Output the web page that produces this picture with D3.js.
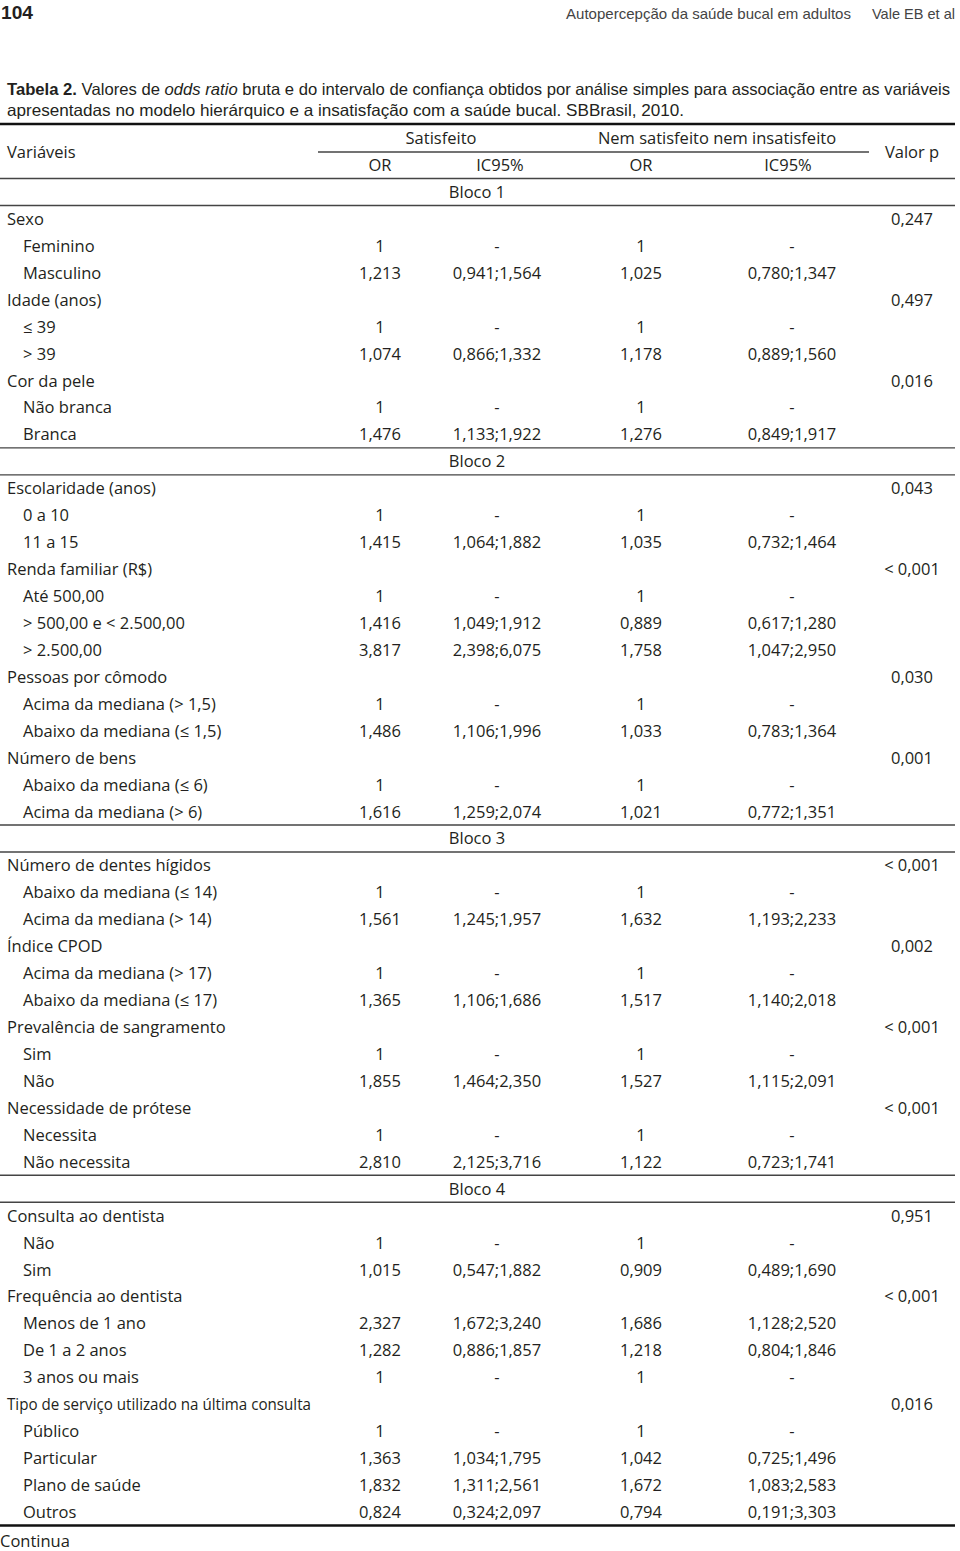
<!DOCTYPE html>
<html><head><meta charset="utf-8">
<script src="https://cdn.jsdelivr.net/npm/d3@7"></script>
<style>
html,body{margin:0;padding:0;background:#fff;}
svg{display:block;}
</style></head>
<body>
<svg id="c" width="960" height="1551"></svg>
<script>
const rowLabels = ["Bloco 1","Sexo","Feminino","Masculino","Idade (anos)","≤ 39","> 39","Cor da pele","Não branca","Branca",
"Bloco 2","Escolaridade (anos)","0 a 10","11 a 15","Renda familiar (R$)","Até 500,00","> 500,00 e < 2.500,00","> 2.500,00",
"Pessoas por cômodo","Acima da mediana (> 1,5)","Abaixo da mediana (≤ 1,5)","Número de bens","Abaixo da mediana (≤ 6)","Acima da mediana (> 6)",
"Bloco 3","Número de dentes hígidos","Abaixo da mediana (≤ 14)","Acima da mediana (> 14)","Índice CPOD","Acima da mediana (> 17)","Abaixo da mediana (≤ 17)",
"Prevalência de sangramento","Sim","Não","Necessidade de prótese","Necessita","Não necessita",
"Bloco 4","Consulta ao dentista","Não","Sim","Frequência ao dentista","Menos de 1 ano","De 1 a 2 anos","3 anos ou mais",
"Tipo de serviço utilizado na última consulta","Público","Particular","Plano de saúde","Outros"];
const rowKinds = ["b","c","s","s","c","s","s","c","s","s",
"b","c","s","s","c","s","s","s",
"c","s","s","c","s","s",
"b","c","s","s","c","s","s",
"c","s","s","c","s","s",
"b","c","s","s","c","s","s","s",
"c","s","s","s","s"];
const orSatisfeito = ["","","1","1,213","","1","1,074","","1","1,476",
"","","1","1,415","","1","1,416","3,817",
"","1","1,486","","1","1,616",
"","","1","1,561","","1","1,365",
"","1","1,855","","1","2,810",
"","","1","1,015","","2,327","1,282","1",
"","1","1,363","1,832","0,824"];
const icSatisfeito = ["","","-","0,941;1,564","","-","0,866;1,332","","-","1,133;1,922",
"","","-","1,064;1,882","","-","1,049;1,912","2,398;6,075",
"","-","1,106;1,996","","-","1,259;2,074",
"","","-","1,245;1,957","","-","1,106;1,686",
"","-","1,464;2,350","","-","2,125;3,716",
"","","-","0,547;1,882","","1,672;3,240","0,886;1,857","-",
"","-","1,034;1,795","1,311;2,561","0,324;2,097"];
const orNem = ["","","1","1,025","","1","1,178","","1","1,276",
"","","1","1,035","","1","0,889","1,758",
"","1","1,033","","1","1,021",
"","","1","1,632","","1","1,517",
"","1","1,527","","1","1,122",
"","","1","0,909","","1,686","1,218","1",
"","1","1,042","1,672","0,794"];
const icNem = ["","","-","0,780;1,347","","-","0,889;1,560","","-","0,849;1,917",
"","","-","0,732;1,464","","-","0,617;1,280","1,047;2,950",
"","-","0,783;1,364","","-","0,772;1,351",
"","","-","1,193;2,233","","-","1,140;2,018",
"","-","1,115;2,091","","-","0,723;1,741",
"","","-","0,489;1,690","","1,128;2,520","0,804;1,846","-",
"","-","0,725;1,496","1,083;2,583","0,191;3,303"];
const valorP = ["","0,247","","","0,497","","","0,016","","",
"","0,043","","","< 0,001","","","",
"0,030","","","0,001","","",
"","< 0,001","","","0,002","","",
"< 0,001","","","< 0,001","","",
"","0,951","","","< 0,001","","","",
"0,016","","","",""];
const columnKeys = ["orSat","icSat","orNem","icNem","p"];
const headerGroups = ["Satisfeito","Nem satisfeito nem insatisfeito"];
const subHeaders = ["OR","IC95%","OR","IC95%"];

const svg = d3.select("#c");
const FONT = "'Open Sans', 'Noto Sans', sans-serif";
const NARROW = "'Liberation Sans Narrow', 'Liberation Sans', Arial, sans-serif";
const ink = "#231f20";

// page header
svg.append("text").attr("x",1).attr("y",19).attr("font-family",NARROW).attr("font-weight","bold")
  .attr("font-size",19).attr("fill",ink).attr("textLength",32).attr("lengthAdjust","spacingAndGlyphs").text("104");
svg.append("text").attr("x",566).attr("y",19).attr("font-family",NARROW).attr("font-size",15)
  .attr("fill","#444").attr("textLength",285).attr("lengthAdjust","spacingAndGlyphs").text("Autopercepção da saúde bucal em adultos");
svg.append("text").attr("x",872).attr("y",19).attr("font-family",NARROW).attr("font-size",15)
  .attr("fill","#444").attr("textLength",83).attr("lengthAdjust","spacingAndGlyphs").text("Vale EB et al");

// caption
const cap1 = svg.append("text").attr("x",7).attr("y",95).attr("font-family",NARROW).attr("font-size",16.5)
  .attr("fill",ink).attr("textLength",943).attr("lengthAdjust","spacingAndGlyphs");
cap1.append("tspan").attr("font-weight","bold").text("Tabela 2.");
cap1.append("tspan").text(" Valores de ");
cap1.append("tspan").attr("font-style","italic").text("odds ratio");
cap1.append("tspan").text(" bruta e do intervalo de confiança obtidos por análise simples para associação entre as variáveis");
svg.append("text").attr("x",7).attr("y",116).attr("font-family",NARROW).attr("font-size",16.5)
  .attr("fill",ink).attr("textLength",677).attr("lengthAdjust","spacingAndGlyphs")
  .text("apresentadas no modelo hierárquico e a insatisfação com a saúde bucal. SBBrasil, 2010.");

// scales
const y = d3.scaleLinear().domain([0, rowLabels.length-1]).range([192, 1512]);
const x = d3.scaleOrdinal().domain(columnKeys).range([380, 497, 641, 792, 912]);
const rowH = (y(1)-y(0));

const g = svg.append("g").attr("font-family",FONT).attr("font-size",16.5).attr("fill",ink);

// rules
function rule(y0, x0, x1, w, col){
  svg.append("line").attr("x1",x0).attr("x2",x1).attr("y1",y0).attr("y2",y0)
    .attr("stroke",col||"#333").attr("stroke-width",w);
}
rule(124, 0, 955, 2.6, "#111");
rule(152, 318, 869, 1.4, "#444");
rule(y(0)-rowH/2, 0, 955, 1.4, "#444");
rule(y(rowLabels.length-1)+rowH/2, 0, 955, 2.6, "#111");
rowKinds.forEach((k,i)=>{
  if(k==="b" && i>0){ rule(y(i)-rowH/2, 0, 955, 1.4, "#444"); }
  if(k==="b"){ rule(y(i)+rowH/2, 0, 955, 1.4, "#444"); }
});

// header
const DY = "0.36em";
g.append("text").attr("x",7).attr("y",152).attr("dy",DY).text("Variáveis");
g.append("text").attr("x",441).attr("y",138).attr("dy",DY).attr("text-anchor","middle").text(headerGroups[0]);
g.append("text").attr("x",717).attr("y",138).attr("dy",DY).attr("text-anchor","middle").text(headerGroups[1]);
g.append("text").attr("x",912).attr("y",152).attr("dy",DY).attr("text-anchor","middle").text("Valor p");
const subX = [380, 500, 641, 788];
subHeaders.forEach((h,i)=>{
  g.append("text").attr("x",subX[i]).attr("y",165).attr("dy",DY).attr("text-anchor","middle").text(h);
});

// body
const rows = rowLabels.map((lab,i)=>({i, lab, kind: rowKinds[i],
  orSat: orSatisfeito[i], icSat: icSatisfeito[i], orNem: orNem[i], icNem: icNem[i], p: valorP[i]}));

const rg = g.selectAll("g.row").data(rows).join("g").attr("class","row")
  .attr("transform", d=>`translate(0,${y(d.i)})`);

rg.append("text")
  .attr("x", d=> d.kind==="b" ? 477 : (d.kind==="c" ? 7 : 23))
  .attr("text-anchor", d=> d.kind==="b" ? "middle" : "start")
  .attr("dy", DY)
  .each(function(d){
    if(d.lab.startsWith("Tipo de serviço")){
      d3.select(this).attr("textLength",304).attr("lengthAdjust","spacingAndGlyphs");
    }
  })
  .text(d=>d.lab);

columnKeys.forEach(key=>{
  rg.filter(d=>d[key]).append("text")
    .attr("x", x(key)).attr("dy", DY).attr("text-anchor","middle")
    .text(d=>d[key]);
});

svg.append("text").attr("x",0).attr("y",1541).attr("dy",DY).attr("font-family",FONT)
  .attr("font-size",16.5).attr("fill",ink).text("Continua");
</script>
</body></html>
